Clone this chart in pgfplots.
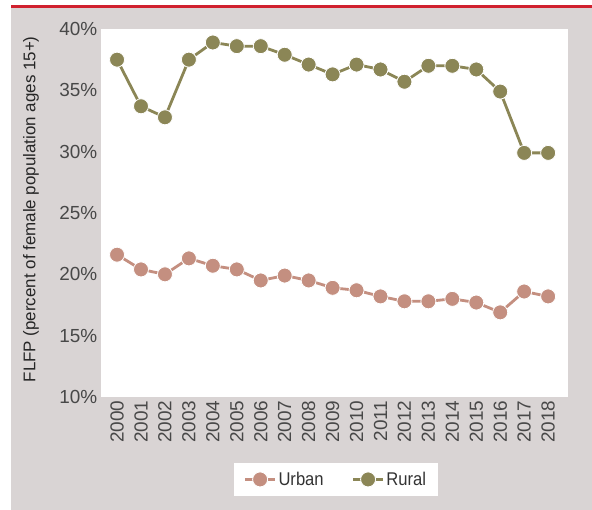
\documentclass[border=0pt]{standalone}
\usepackage{fontspec}
\setmainfont{Liberation Sans}
\newfontfamily\legendfont{Liberation Sans}[FakeStretch=0.9]
\usepackage{pgfplots}
\pgfplotsset{compat=1.18}
\definecolor{bg}{HTML}{D9D4D4}
\definecolor{redline}{HTML}{D0202E}
\definecolor{rural}{HTML}{8B8656}
\definecolor{urban}{HTML}{C48F80}
\definecolor{ticktext}{HTML}{484848}
\begin{document}
\begin{tikzpicture}[x=1bp,y=1bp]
\useasboundingbox (0,0) rectangle (592,510);
\fill[bg] (11,0) rectangle (592,503);
\fill[redline] (11,502.3) rectangle (592,505);
\begin{axis}[
  at={(101bp,113bp)}, anchor=south west,
  scale only axis, width=467bp, height=368bp,
  xmin=1999.33, xmax=2018.83, ymin=10, ymax=40,
  axis background/.style={fill=white},
  axis line style={draw=none},
  major tick length=0pt, tick style={draw=none},
  xtick={2000,2001,...,2018}, ytick={10,15,...,40},
  /pgf/number format/assume math mode=true,
  /pgf/number format/1000 sep={},
  xticklabel style={rotate=90, anchor=east, font=\fontsize{19}{20}\selectfont, text=ticktext, inner sep=3.5bp},
  yticklabel style={font=\fontsize{19}{20}\selectfont, text=ticktext, inner sep=3.5bp},
  yticklabel={\pgfmathprintnumber{\tick}\%},
  ylabel={FLFP (percent of female population ages 15+)},
  every axis y label/.style={at={(axis description cs:-0.150,0.51)}, rotate=90, anchor=center, font=\fontsize{17}{18}\selectfont, text=black!85},
  legend style={at={(axis description cs:0.503,-0.224)}, anchor=center, legend columns=2, draw=none, fill=white,
    font=\legendfont\fontsize{18.5}{20}\selectfont, text=black!80, inner xsep=10bp, inner ysep=7bp,
    /tikz/every even column/.append style={column sep=26bp}},
  legend cell align=left,
  legend image code/.code={\draw[mark repeat=2,mark phase=2,#1] plot coordinates {(0bp,0bp) (15bp,0bp) (30bp,0bp)};},
]
\addplot[urban, line width=2.8bp, mark=*, mark size=7.5bp, mark options={fill=urban, draw=white, line width=0.8bp}] coordinates {
(2000,21.6) (2001,20.4) (2002,20.0) (2003,21.3) (2004,20.7) (2005,20.4) (2006,19.5) (2007,19.9) (2008,19.5) (2009,18.9)
(2010,18.7) (2011,18.2) (2012,17.8) (2013,17.8) (2014,18.0) (2015,17.7) (2016,16.9) (2017,18.6) (2018,18.2)};
\addlegendentry{Urban}
\addplot[rural, line width=2.8bp, mark=*, mark size=7.5bp, mark options={fill=rural, draw=white, line width=0.8bp}] coordinates {
(2000,37.5) (2001,33.7) (2002,32.8) (2003,37.5) (2004,38.9) (2005,38.6) (2006,38.6) (2007,37.9) (2008,37.1) (2009,36.3)
(2010,37.1) (2011,36.7) (2012,35.7) (2013,37.0) (2014,37.0) (2015,36.7) (2016,34.9) (2017,29.9) (2018,29.9)};
\addlegendentry{Rural}
\end{axis}
\end{tikzpicture}
\end{document}
